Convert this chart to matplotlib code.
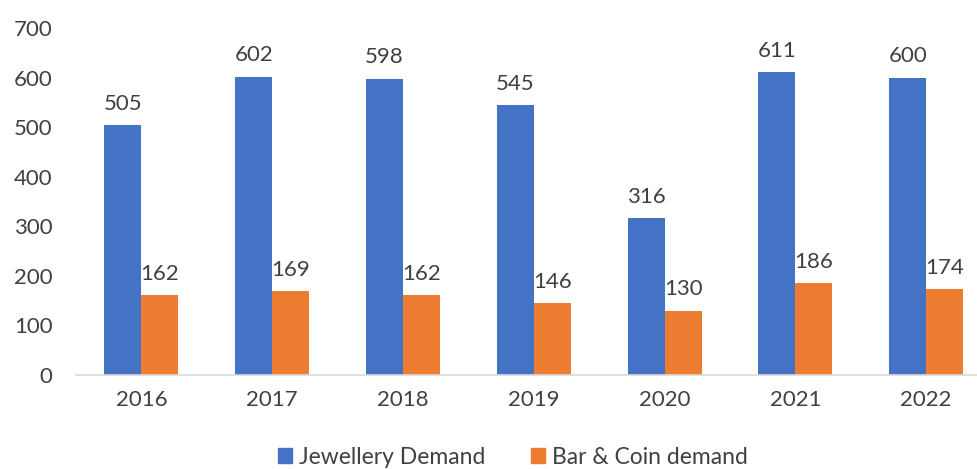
import matplotlib
matplotlib.use("Agg")
import matplotlib.pyplot as plt
import numpy as np
from matplotlib.patches import Patch

years = ["2016", "2017", "2018", "2019", "2020", "2021", "2022"]
jewellery = [505, 602, 598, 545, 316, 611, 600]
bar_coin = [162, 169, 162, 146, 130, 186, 174]
yticks = [0, 100, 200, 300, 400, 500, 600, 700]

blue = "#4472C4"
orange = "#ED7D31"
text_col = "#404040"

plt.rcParams['font.family'] = ['Lato', 'DejaVu Sans']

fig = plt.figure(figsize=(9.78, 4.69), dpi=100)
ax = fig.add_axes([76/978, (469-375)/469, 1 - 76/978, 347/469])

x = np.arange(len(years))
w = 0.283
ax.bar(x - w/2, jewellery, width=w, color=blue, label="Jewellery Demand")
ax.bar(x + w/2, bar_coin, width=w, color=orange, label="Bar & Coin demand")

for xi, v in zip(x, jewellery):
    ax.annotate(str(v), (xi - w/2, v), xytext=(0, 8), textcoords="offset points",
                ha="center", va="bottom", fontsize=16, color=text_col)
for xi, v in zip(x, bar_coin):
    ax.annotate(str(v), (xi + w/2, v), xytext=(0, 8), textcoords="offset points",
                ha="center", va="bottom", fontsize=16, color=text_col)

ax.set_xlim(-0.5, (978 - 76) / 130.8 - 0.5)
ax.set_ylim(0, 700)
ax.set_yticks(yticks)
ax.set_yticklabels([str(t) for t in yticks], fontsize=16, color=text_col)
ax.set_xticks(x)
ax.set_xticklabels(years, fontsize=16, color=text_col)
ax.tick_params(axis="both", length=0)
ax.tick_params(axis="y", pad=17)
ax.tick_params(axis="x", pad=11)

for s in ["top", "right", "left"]:
    ax.spines[s].set_visible(False)
ax.spines["bottom"].set_color("#D9D9D9")
ax.spines["bottom"].set_linewidth(1.2)

handles = [Patch(color=blue, label="Jewellery Demand"),
           Patch(color=orange, label="Bar & Coin demand")]
fig.legend(handles=handles, loc="center", bbox_to_anchor=(513/978, 1 - 457/469),
           ncol=2, frameon=False, fontsize=16.5, handlelength=0.6, handleheight=0.6,
           handletextpad=0.3, columnspacing=2.0, labelcolor=text_col)

fig.savefig("out.png", dpi=100)
